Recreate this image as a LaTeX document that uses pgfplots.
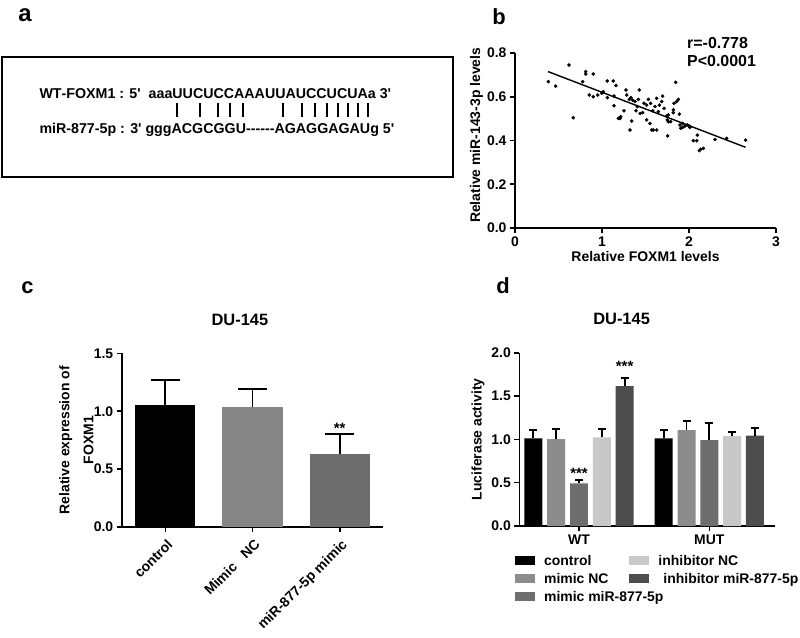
\documentclass[border=0pt]{standalone}
\usepackage{pgfplots}
\pgfplotsset{compat=1.18}
\usepackage{fontspec}
\setmainfont{Liberation Sans}
\newfontfamily\seqf{Liberation Sans}
\definecolor{cNC}{HTML}{8C8C8C}
\definecolor{cMim}{HTML}{6E6E6E}
\definecolor{cINC}{HTML}{C8C8C8}
\definecolor{cInh}{HTML}{4D4D4D}
\newcommand{\fs}[1]{\fontsize{#1}{#1}\selectfont\bfseries}
\newcommand{\hy}{\mbox{-}}
\pgfplotsset{
  gp/.style={
    scale only axis,
    axis x line*=bottom, axis y line*=left,
    axis line style={line width=1.6bp, black},
    tick style={line width=1.6bp, black},
    tick align=outside,
    major tick length=5bp,
    minor tick num=0,
    tick label style={font=\fs{14}},
    label style={font=\fontsize{14}{19}\selectfont\bfseries},
    /pgf/number format/assume math mode=true,
    title style={font=\fs{16.5}},
  },
  bar/.style={ybar, bar shift=0pt, draw=none, fill=#1,
    legend image code/.code={\fill[##1] (0bp,-4.5bp) rectangle (20bp,4.5bp);}},
}
\begin{document}
\begin{tikzpicture}
\useasboundingbox (0,0) rectangle (800bp,-638bp);
% panel letters
\node[font=\fs{24}] at (25bp,-15bp) {a};
\node[font=\fs{22}] at (499bp,-16.5bp) {b};
\node[font=\fs{22}] at (27.5bp,-288bp) {c};
\node[font=\fs{22}] at (503bp,-285.5bp) {d};
% panel a
\draw[line width=1.8bp] (2bp,-57bp) rectangle (453bp,-177bp);
\node[anchor=base west, inner sep=0pt, font=\seqf\fontsize{14.3}{14.3}\selectfont\bfseries] at (39.3bp,-98.3bp) {WT\hy FOXM1 : 5'\ \ aaaUUCUCCAAAUUAUCCUCUAa 3'};
\node[anchor=base west, inner sep=0pt, font=\seqf\fontsize{14.3}{14.3}\selectfont\bfseries] at (39.3bp,-133bp) {miR\hy 877\hy 5p : 3' gggACGCGGU\hy\hy\hy\hy\hy\hy AGAGGAGAUg 5'};
\foreach \xx in {176.7,200,218.3,230,242.7,283.3,301.7,315,326.7,338.3,348.3,358.3,368.3}
  \draw[line width=1.8bp] (\xx bp,-103bp) -- (\xx bp,-117bp);
% panel b
\begin{axis}[gp, at={(515bp,-228bp)}, anchor=south west,
  width=261bp, height=175bp,
  xmin=0, xmax=3, ymin=0, ymax=0.8,
  xtick={0,1,2,3}, ytick={0,0.2,0.4,0.6,0.8},
  yticklabel style={/pgf/number format/.cd, fixed, fixed zerofill, precision=1},
  xlabel={Relative FOXM1 levels},
  ylabel={Relative miR-143-3p levels},
  xlabel style={at={(axis description cs:0.5,-0.164)}, anchor=center},
  ylabel style={at={(axis description cs:-0.147,0.53)}, anchor=center},
  clip=false]
\addplot[only marks, mark=*, mark size=1.6bp, black] coordinates {
(0.383,0.669)(0.467,0.649)(0.621,0.745)(0.670,0.504)(0.778,0.669)
(0.812,0.715)(0.812,0.704)(0.900,0.704)(0.854,0.608)(0.900,0.600)
(0.950,0.608)(0.996,0.616)(1.015,0.623)(1.061,0.596)(1.061,0.672)
(1.130,0.672)(1.161,0.651)(1.138,0.603)(1.138,0.559)(1.207,0.501)
(1.215,0.509)(1.253,0.536)(1.276,0.631)(1.284,0.608)(1.314,0.588)
(1.322,0.448)(1.341,0.489)(1.333,0.596)(1.352,0.585)(1.379,0.578)
(1.391,0.536)(1.406,0.555)(1.429,0.631)(1.418,0.588)(1.437,0.524)
(1.467,0.527)(1.483,0.570)(1.513,0.494)(1.533,0.588)(1.552,0.478)
(1.559,0.570)(1.571,0.448)(1.590,0.448)(1.582,0.536)(1.609,0.555)
(1.628,0.593)(1.648,0.532)(1.659,0.562)(1.686,0.578)(1.697,0.603)
(1.713,0.547)(1.743,0.512)(1.751,0.494)(1.755,0.421)(1.762,0.486)
(1.789,0.486)(1.820,0.527)(1.828,0.570)(1.847,0.666)(1.858,0.578)
(1.877,0.588)(1.889,0.521)(1.897,0.471)(1.904,0.456)(1.927,0.478)
(1.954,0.466)(1.981,0.471)(2.004,0.466)(2.011,0.460)(2.050,0.399)
(2.088,0.399)(2.096,0.425)(2.119,0.354)(2.134,0.360)(2.165,0.364)
(2.299,0.405)(2.433,0.410)(2.651,0.402)(1.188,0.501)(1.513,0.562)
(1.628,0.448)(1.762,0.517)(1.820,0.540)(1.927,0.460)
};
\addplot[black, line width=1.4bp] coordinates {(0.38,0.715)(2.65,0.369)};
\end{axis}
\node[anchor=west, font=\fs{16}, inner sep=0pt] at (687bp,-43bp) {r=-0.778};
\node[anchor=west, font=\fs{16}, inner sep=0pt] at (687bp,-61bp) {P<0.0001};
% panel c
\begin{axis}[gp, at={(121.7bp,-527bp)}, anchor=south west,
  width=261.6bp, height=173.7bp,
  xmin=-0.5, xmax=2.5, ymin=0, ymax=1.5,
  xtick={0,1,2}, xticklabels={control, Mimic\ \ \ NC, miR-877-5p mimic},
  xticklabel style={yshift=-4bp, xshift=1bp, rotate=45, anchor=north east, inner sep=1.5bp},
  ytick={0,0.5,1,1.5},
  yticklabel style={/pgf/number format/.cd, fixed, fixed zerofill, precision=1},
  ylabel={Relative expression of\\[5bp]FOXM1},
  ylabel style={align=center, at={(axis description cs:-0.173,0.5)}, anchor=center},
  title={DU-145},
  title style={at={(axis description cs:0.452,1.155)}, anchor=center},
  clip=false,
  error bars/y dir=plus, error bars/y explicit,
  error bars/error bar style={line width=1.8bp, black},
  error bars/error mark options={rotate=90, mark size=14.5bp, line width=1.8bp, black},
  bar width=0.69]
\addplot[bar=black] coordinates {(0,1.051) +- (0,0.219)};
\addplot[bar=cNC!105] coordinates {(1,1.034) +- (0,0.155)};
\addplot[bar=cMim] coordinates {(2,0.633) +- (0,0.167)};
\node[anchor=base, font=\fs{15}] at (axis cs:2,0.81) {**};
\end{axis}
% panel d
\begin{axis}[gp, at={(519.3bp,-526bp)}, anchor=south west,
  width=255.7bp, height=173.3bp,
  xmin=-0.458, xmax=1.504, ymin=0, ymax=2,
  xtick={0,1}, xticklabels={WT, MUT},
  ytick={0,0.5,1,1.5,2},
  yticklabel style={/pgf/number format/.cd, fixed, fixed zerofill, precision=1},
  ylabel={Luciferase activity},
  ylabel style={at={(axis description cs:-0.1615,0.5)}, anchor=center},
  title={DU-145},
  title style={at={(axis description cs:0.40,1.16)}, anchor=center},
  clip=false,
  error bars/y dir=plus, error bars/y explicit,
  error bars/error bar style={line width=1.8bp, black},
  error bars/error mark options={rotate=90, mark size=4bp, line width=1.8bp, black},
  bar width=0.138,
  legend columns=2, legend cell align=left,
  legend style={draw=none, fill=none, at={(axis description cs:-0.017,-0.16)}, anchor=north west,
    inner sep=0pt, row sep=4.5bp, font=\fs{14},
    nodes={inner sep=1bp},
    /tikz/every odd column/.append style={column sep=8bp},
    /tikz/every even column/.append style={column sep=20bp}}]
\addplot[bar=black] coordinates {(-0.35,1.012) +- (0,0.096) (0.65,1.012) +- (0,0.096)};
\addlegendentry{control}
\addplot[bar=cINC] coordinates {(0.175,1.023) +- (0,0.092) (1.175,1.038) +- (0,0.050)};
\addlegendentry{inhibitor NC}
\addplot[bar=cNC] coordinates {(-0.175,1.004) +- (0,0.111) (0.825,1.108) +- (0,0.107)};
\addlegendentry{mimic NC}
\addplot[bar=cInh] coordinates {(0.35,1.615) +- (0,0.089) (1.35,1.042) +- (0,0.085)};
\addlegendentry{\hspace{5bp}inhibitor miR-877-5p}
\addplot[bar=cMim] coordinates {(0,0.492) +- (0,0.039) (1,0.992) +- (0,0.193)};
\addlegendentry{\rlap{mimic miR-877-5p}}
\node[anchor=base, font=\fs{15}] at (axis cs:0,0.546) {***};
\node[anchor=base, font=\fs{15}] at (axis cs:0.35,1.783) {***};
\end{axis}
\end{tikzpicture}
\end{document}
